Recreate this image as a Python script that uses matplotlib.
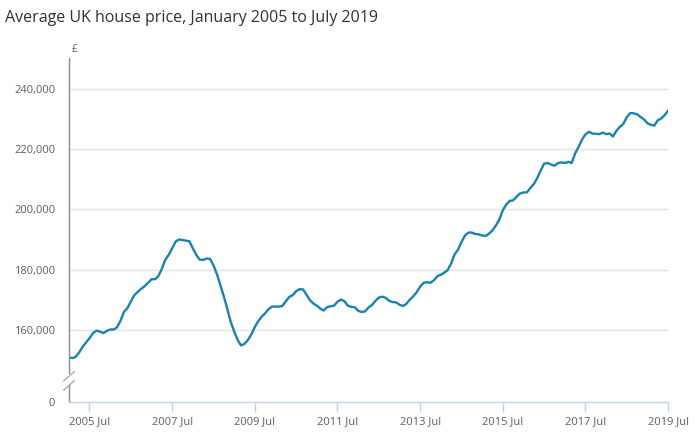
import matplotlib
matplotlib.use('Agg')
from matplotlib import pyplot as plt
import pandas as pd

# average UK house price, monthly Jan 2005 - Jul 2019 (£ thousands)
months = pd.date_range('2005-01-01', '2019-07-01', freq='MS')
price_k = [
    150.8, 150.6, 151.0, 152.5, 154.3, 155.8, 157.2, 158.9, 159.7, 159.4, 158.9, 159.6,
    160.1, 160.1, 160.8, 163.0, 165.9, 167.2, 169.3, 171.5, 172.6, 173.6, 174.5, 175.6,
    176.8, 176.8, 177.8, 180.2, 183.2, 184.9, 187.0, 189.3, 190.0, 189.8, 189.6, 189.4,
    187.0, 184.8, 183.3, 183.2, 183.7, 183.5, 181.4, 178.4, 174.6, 171.0, 166.8, 162.5,
    159.3, 156.5, 154.8, 155.3, 156.6, 158.5, 160.9, 162.9, 164.4, 165.5, 166.9, 167.7,
    167.7, 167.7, 167.9, 169.4, 170.9, 171.5, 172.8, 173.5, 173.4, 171.6, 169.8, 168.7,
    168.0, 167.0, 166.4, 167.5, 167.8, 168.0, 169.3, 170.0, 169.5, 168.0, 167.6, 167.5,
    166.3, 165.9, 166.1, 167.4, 168.2, 169.6, 170.7, 171.0, 170.6, 169.6, 169.2, 169.1,
    168.3, 167.9, 168.6, 170.0, 171.1, 172.5, 174.3, 175.6, 175.8, 175.6, 176.5, 177.8,
    178.3, 179.0, 179.8, 182.0, 185.0, 186.6, 189.1, 191.3, 192.3, 192.3, 191.8, 191.7,
    191.3, 191.2, 191.9, 193.0, 194.6, 196.6, 199.6, 201.6, 202.8, 203.0, 204.2, 205.3,
    205.6, 205.7, 207.1, 208.4, 210.4, 212.9, 215.2, 215.4, 214.9, 214.5, 215.4, 215.6,
    215.4, 215.8, 215.4, 218.6, 220.7, 223.2, 224.9, 225.8, 225.2, 225.1, 225.0, 225.5,
    225.0, 225.2, 224.2, 226.1, 227.4, 228.4, 230.6, 232.0, 231.9, 231.6, 230.7, 229.9,
    228.6, 228.1, 227.8, 229.6, 230.2, 231.3, 232.8,
]
price = [v * 1000 for v in price_k]

tick_years = [2005, 2007, 2009, 2011, 2013, 2015, 2017, 2019]
tick_dates = [pd.Timestamp(y, 7, 1) for y in tick_years]
tick_labels = [f'{y} Jul' for y in tick_years]

y_ticks = [136000, 160000, 180000, 200000, 220000, 240000]
y_labels = ['0', '160,000', '180,000', '200,000', '220,000', '240,000']

plt.rcParams['font.family'] = ['Open Sans', 'DejaVu Sans']

fig = plt.figure(figsize=(7, 4.38), dpi=100)
ax = fig.add_axes([0.0986, 0.0822, 0.8557, 0.7854])

ax.plot(months, price, color='#1b82ad', linewidth=1.7, solid_joinstyle='round')

ax.set_xlim(months[0], months[-1])
ax.set_ylim(136000, 250300)

ax.set_xticks(tick_dates)
ax.set_xticklabels(tick_labels)
ax.set_yticks(y_ticks)
ax.set_yticklabels(y_labels)
ax.tick_params(axis='x', colors='#c3d3e6', length=7, width=1, pad=3,
               labelcolor='#5e5e5e', labelsize=8)
ax.tick_params(axis='y', length=0, pad=10, labelcolor='#5e5e5e', labelsize=8)

ax.yaxis.grid(True, color='#e3e3e3', linewidth=1)
ax.get_ygridlines()[0].set_visible(False)
ax.set_axisbelow(True)

for s in ['top', 'right', 'left']:
    ax.spines[s].set_visible(False)
ax.spines['bottom'].set_color('#c3d3e6')
ax.spines['bottom'].set_linewidth(1)

# left axis line with a break near the bottom
axc = '#8c8c8c'
ax.plot([0, 0], [0, 0.049], color=axc, lw=1, transform=ax.transAxes, clip_on=False)
ax.plot([0, 0], [0.084, 1], color=axc, lw=1, transform=ax.transAxes, clip_on=False)
ax.plot([-0.0085, 0.0088], [0.062, 0.088], color='#aaaaaa', lw=1,
        transform=ax.transAxes, clip_on=False)
ax.plot([-0.0085, 0.0088], [0.035, 0.062], color='#aaaaaa', lw=1,
        transform=ax.transAxes, clip_on=False)

ax.text(0.004, 1.01, '£', transform=ax.transAxes, fontsize=7.5, color='#5e5e5e',
        ha='left', va='bottom')

fig.text(0.007, 1 - 18 / 438, 'Average UK house price, January 2005 to July 2019',
         fontsize=11.5, color='#323132', ha='left', va='center')

fig.savefig('out.png', dpi=100)
